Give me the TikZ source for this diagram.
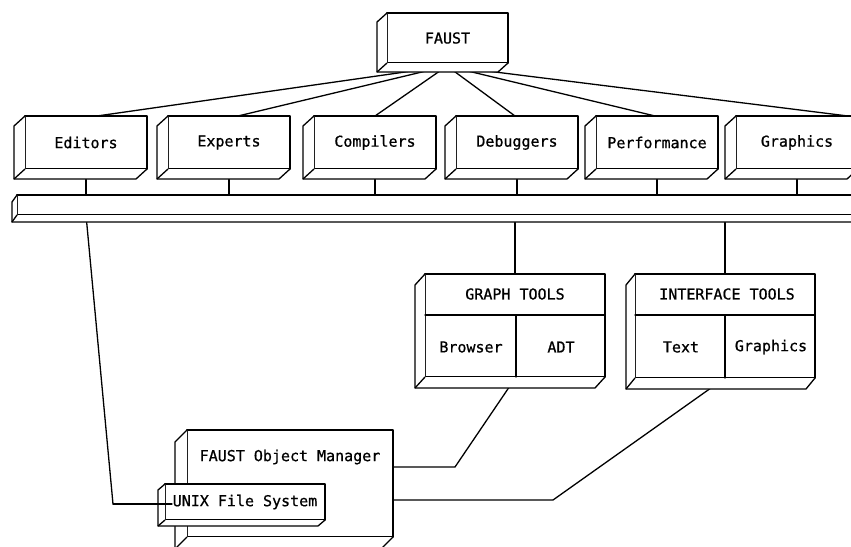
\documentclass[tikz,border=0pt]{standalone}
\usepackage{fontspec}
\newfontfamily\plotfont[FakeBold=0.8]{DejaVu Sans Mono}
\usetikzlibrary{calc}
\pgfdeclarelayer{bg}
\pgfdeclarelayer{fg}
\pgfsetlayers{bg,main,fg}

% Left and bottom faces of an oblique box whose front face is node #1,
% pushed back by #2 to the left and #3 downwards.
\newcommand\slabsides[3]{%
  \fill[white] (#1.north west) -- ([shift={(-#2,#3)}]#1.north west)
    -- ([shift={(-#2,#3)}]#1.south west) -- ([shift={(-#2,#3)}]#1.south east)
    -- (#1.south east) -- (#1.south west) -- cycle;
  \draw[edge] (#1.north west) -- ([shift={(-#2,#3)}]#1.north west)
    -- ([shift={(-#2,#3)}]#1.south west) -- ([shift={(-#2,#3)}]#1.south east)
    -- (#1.south east);
  \draw[edge] (#1.south west) -- ([shift={(-#2,#3)}]#1.south west);
}

\begin{document}
\begin{tikzpicture}[x=1pt, y=-1pt,
  edge/.style={line width=1.3pt, line join=round, line cap=round},
  face/.style={draw, fill=white, edge, inner sep=0pt, outer sep=0pt},
  lbl/.style={font={\plotfont\fontsize{15}{18}\selectfont}, inner sep=0pt},
  topbox/.style={face, lbl, minimum width=122pt, minimum height=53pt}]
\useasboundingbox (0,0) rectangle (851,546);

% root
\node[face, lbl, minimum width=121pt, minimum height=50pt] (faust) at (447.5,38) {FAUST};
\slabsides{faust}{10}{9}

% tool row
\node[topbox] (editors)     at (86,142.5)  {Editors};
\node[topbox] (experts)     at (229,142.5) {Experts};
\node[topbox] (compilers)   at (375,142.5) {Compilers};
\node[topbox] (debuggers)   at (517,142.5) {Debuggers};
\node[topbox] (performance) at (657,142.5) {Performance};
\node[topbox] (graphics)    at (797,142.5) {Graphics};
\foreach \b in {editors,experts,compilers,debuggers,performance,graphics}
  {\slabsides{\b}{11}{10}}

% bus
\node[face, minimum width=900pt, minimum height=20pt] (bar) at (467,205) {};
\slabsides{bar}{5}{7}

% graph tools
\node[face, minimum width=180pt, minimum height=103pt] (graph) at (515,325.5) {};
\slabsides{graph}{10}{11}
\coordinate (gdiv) at (516,315);
\draw[edge] (graph.west |- gdiv) -- (graph.east |- gdiv);
\draw[edge] (gdiv) -- (gdiv |- graph.south);
\node[lbl] (graphtitle) at (515,294) {GRAPH TOOLS};
\node[lbl] (browser) at (471,347) {Browser};
\node[lbl] (adt) at (561,347) {ADT};

% interface tools
\node[face, minimum width=180pt, minimum height=104pt] (interface) at (725,326) {};
\slabsides{interface}{9}{11}
\coordinate (idiv) at (725,315);
\draw[edge] (interface.west |- idiv) -- (interface.east |- idiv);
\draw[edge] (idiv) -- (idiv |- interface.south);
\node[lbl] (ifacetitle) at (727,294) {INTERFACE TOOLS};
\node[lbl] (itext) at (681,347) {Text};
\node[lbl] (igraphics) at (771,347) {Graphics};

% object manager and file system
\node[face, minimum width=206pt, minimum height=107pt] (fom) at (290,483.5) {};
\slabsides{fom}{12}{12}
\node[lbl] (fomtitle) at (290,457) {FAUST Object Manager};
\node[face, lbl, minimum width=160pt, minimum height=36pt] (unix) at (245,502) {UNIX File System};
\slabsides{unix}{7}{6}

\coordinate (hub) at (447,66);
\coordinate (ebend) at (113,504);
\coordinate (gbend) at (455,467);
\coordinate (ibend) at (553,500);

\begin{pgfonlayer}{bg}
  % fan from the root
  \draw[edge] (hub) -- ([xshift=11pt]editors.north);
  \draw[edge] (hub) -- ([xshift=9pt]experts.north);
  \draw[edge] (hub) -- (compilers.north);
  \draw[edge] (hub) -- ([xshift=-2pt]debuggers.north);
  \draw[edge] (hub) -- ([xshift=-2pt]performance.north);
  \draw[edge] (hub) -- ([xshift=51pt]graphics.north);
  % tools onto the bus
  \foreach \b in {editors,experts,compilers,debuggers,performance,graphics}
    {\draw[edge] (\b.south) -- (\b.south |- bar.north);}
  % bus down to the lower boxes
  \draw[edge] (editors.south |- bar.south) -- (ebend);
  \draw[edge] (graph.north |- bar.south) -- (graph.north);
  \draw[edge] (interface.north |- bar.south) -- (interface.north);
  % toolkits to the object manager
  \draw[edge] (gdiv |- graph.south) -- (gbend) -- (gbend -| fom.east);
  \draw[edge] (idiv |- interface.south) -- (ibend) -- (ibend -| fom.east);
\end{pgfonlayer}

\begin{pgfonlayer}{fg}
  \draw[edge] (ebend) -- ($(ebend -| unix.west)+(7,0)$);
\end{pgfonlayer}
\end{tikzpicture}
\end{document}
